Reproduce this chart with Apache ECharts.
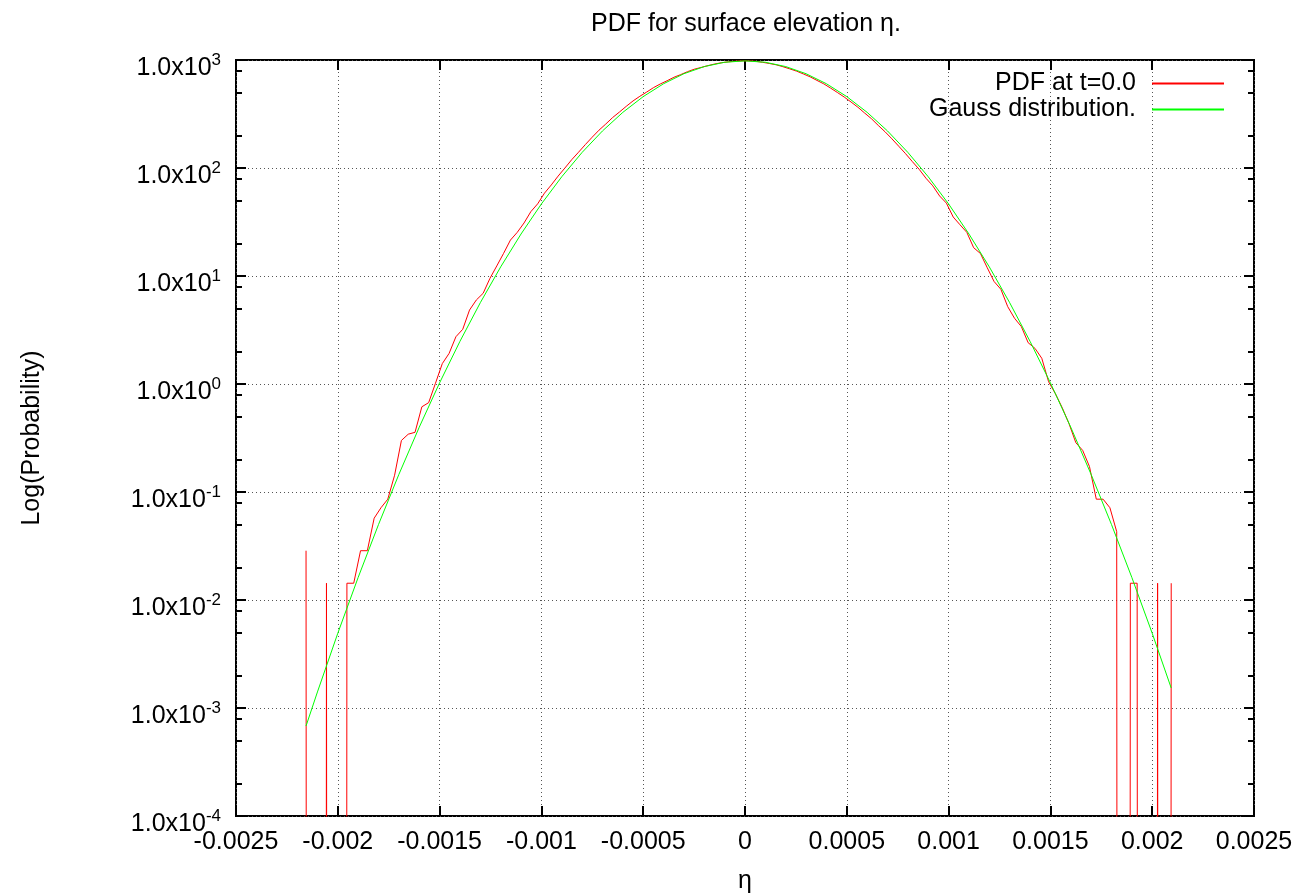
<!DOCTYPE html>
<html>
<head>
<meta charset="utf-8">
<script src="https://cdn.jsdelivr.net/npm/echarts@6/dist/echarts.min.js"></script>
<style>html,body{margin:0;padding:0;background:#fff}#chart{width:1301px;height:893px}</style>
</head>
<body>
<div id="chart"></div>
<script>
// ---------------- data ----------------
const titleText = 'PDF for surface elevation \u03b7.';
const xAxisName = '\u03b7';
const yAxisName = 'Log(Probability)';
const seriesNames = ['PDF at t=0.0', 'Gauss distribution.'];

const xTickLabels = ['-0.0025', '-0.002', '-0.0015', '-0.001', '-0.0005', '0', '0.0005', '0.001', '0.0015', '0.002', '0.0025'];
const yTickExponents = [-4, -3, -2, -1, 0, 1, 2, 3];
const yMinorMantissas = [2, 5, 8];

// histogram bin centres (eta) of the measured PDF
const pdfEta = [
  -21.560e-4, -21.225e-4, -20.891e-4, -20.556e-4, -20.222e-4, -19.887e-4, -19.552e-4, -19.218e-4, -18.883e-4, -18.549e-4,
  -18.214e-4, -17.879e-4, -17.545e-4, -17.210e-4, -16.876e-4, -16.541e-4, -16.206e-4, -15.872e-4, -15.537e-4, -15.203e-4,
  -14.868e-4, -14.533e-4, -14.199e-4, -13.864e-4, -13.530e-4, -13.195e-4, -12.860e-4, -12.526e-4, -12.191e-4, -11.857e-4,
  -11.522e-4, -11.187e-4, -10.853e-4, -10.518e-4, -10.184e-4, -9.849e-4, -9.514e-4, -9.180e-4, -8.845e-4, -8.511e-4,
  -8.176e-4, -7.841e-4, -7.507e-4, -7.172e-4, -6.838e-4, -6.503e-4, -6.168e-4, -5.834e-4, -5.499e-4, -5.165e-4,
  -4.830e-4, -4.495e-4, -4.161e-4, -3.826e-4, -3.492e-4, -3.157e-4, -2.822e-4, -2.488e-4, -2.153e-4, -1.819e-4,
  -1.484e-4, -1.149e-4, -0.815e-4, -0.480e-4, -0.146e-4, 0.189e-4, 0.524e-4, 0.858e-4, 1.193e-4, 1.527e-4,
  1.862e-4, 2.197e-4, 2.531e-4, 2.866e-4, 3.200e-4, 3.535e-4, 3.870e-4, 4.204e-4, 4.539e-4, 4.873e-4,
  5.208e-4, 5.543e-4, 5.877e-4, 6.212e-4, 6.546e-4, 6.881e-4, 7.216e-4, 7.550e-4, 7.885e-4, 8.219e-4,
  8.554e-4, 8.889e-4, 9.223e-4, 9.558e-4, 9.892e-4, 10.227e-4, 10.562e-4, 10.896e-4, 11.231e-4, 11.565e-4,
  11.900e-4, 12.235e-4, 12.569e-4, 12.904e-4, 13.238e-4, 13.573e-4, 13.908e-4, 14.242e-4, 14.577e-4, 14.911e-4,
  15.246e-4, 15.581e-4, 15.915e-4, 16.250e-4, 16.584e-4, 16.919e-4, 17.254e-4, 17.588e-4, 17.923e-4, 18.257e-4,
  18.592e-4, 18.926e-4, 19.261e-4, 19.596e-4, 19.930e-4, 20.265e-4, 20.599e-4, 20.934e-4
];
// measured PDF per bin (0 = empty bin)
const pdfValues = [
  0.0286, 0, 0, 0.0143, 0, 0, 0.0143, 0.0143, 0.0286, 0.0286,
  0.0572, 0.0715, 0.0858, 0.143, 0.300, 0.343, 0.357, 0.615, 0.672, 1.015,
  1.544, 1.92, 2.74, 3.21, 4.84, 6.00, 6.92, 9.52, 12.4, 16.2,
  21.5, 25.35, 30.97, 39.45, 46.56, 58.48, 69.66, 84.14, 100.0, 119.4,
  140.0, 164.8, 192.8, 223.9, 255.3, 293.1, 329.6, 372.4, 417.8, 461.3,
  504.7, 554.6, 599.8, 642.7, 691.8, 732.8, 779.8, 822.2, 853.1, 887.2,
  918.3, 944.1, 961.6, 975.0, 981.7, 981.7, 972.7, 952.8, 929.0, 903.6,
  867.0, 827.9, 788.9, 743.0, 698.2, 647.1, 601.2, 549.5, 500.0, 454.0,
  408.3, 365.6, 322.8, 285.8, 247.7, 216.3, 186.2, 159.2, 135.8, 114.6,
  97.27, 80.35, 68.39, 55.08, 47.32, 35.16, 29.79, 25.35, 18.28, 16.14,
  11.91, 8.89, 7.53, 5.20, 4.06, 3.40, 2.41, 2.14, 1.73, 1.05,
  0.813, 0.603, 0.429, 0.286, 0.243, 0.172, 0.0858, 0.0858, 0.0715, 0.0429,
  0, 0.0143, 0.0143, 0, 0, 0.0143, 0, 0.0143
];

// Gauss distribution curve
const gaussEta = [
  -21.56e-4, -21e-4, -20e-4, -19e-4, -18e-4, -17e-4, -16e-4, -15e-4, -14e-4, -13e-4, -12e-4,
  -11e-4, -10e-4, -9e-4, -8e-4, -7e-4, -6e-4, -5e-4, -4e-4, -3e-4, -2e-4, -1e-4, 0,
  1e-4, 2e-4, 3e-4, 4e-4, 5e-4, 6e-4, 7e-4, 8e-4, 9e-4, 10e-4,
  11e-4, 12e-4, 13e-4, 14e-4, 15e-4, 16e-4, 17e-4, 18e-4, 19e-4, 20e-4, 20.934e-4
];
const gaussValues = [
  6.81e-4, 1.408e-3, 4.922e-3, 0.01618, 0.05002, 0.1455, 0.3982, 1.025, 2.484, 5.661, 12.14,
  24.48, 46.47, 82.96, 139.4, 220.3, 327.4, 458.1, 602.7, 746.3, 869.0, 952.6, 982.0,
  952.6, 869.0, 746.3, 602.7, 458.1, 327.4, 220.3, 139.4, 82.96, 46.47,
  24.48, 12.14, 5.661, 2.484, 1.025, 0.3982, 0.1455, 0.05002, 0.01618, 4.922e-3, 1.531e-3
];

// ---------------- chart ----------------
const FONT = '"Liberation Sans", Arial, Helvetica, sans-serif';
const FS = 25;
const X_MIN = -0.0025, X_MAX = 0.0025, X_STEP = 0.0005;
// An empty bin has log(0) = -inf; like the original plot it drops straight out of the frame.
const EMPTY_BIN = 1e-100;

const pdfData = pdfEta.map((x, i) => [x, pdfValues[i] > 0 ? pdfValues[i] : EMPTY_BIN]);
const gaussData = gaussEta.map((x, i) => [x, gaussValues[i]]);

const minorTickLogs = [];
for (let k = 0; k < yTickExponents.length - 1; k++) {
  for (const m of yMinorMantissas) minorTickLogs.push(yTickExponents[k] + Math.log10(m));
}

const chart = echarts.init(document.getElementById('chart'), null, {renderer: 'canvas', width: 1301, height: 893});

const tickStyle = {color: '#000', width: 2};
const gridLine = {show: true, lineStyle: {color: '#555', width: 1, type: [1, 3]}};
const noLine = {show: false, onZero: false};

chart.setOption({
  animation: false,
  backgroundColor: '#fff',
  textStyle: {fontFamily: FONT, color: '#000'},
  title: {
    text: titleText,
    left: 746, top: 12, textAlign: 'center', padding: 0,
    textStyle: {fontSize: FS, fontWeight: 'normal', color: '#000', fontFamily: FONT}
  },
  legend: {
    data: seriesNames,
    orient: 'vertical', align: 'right',
    right: 77, top: 71, padding: 0,
    icon: 'rect', itemWidth: 72, itemHeight: 2, itemGap: 1,
    textStyle: {fontSize: FS, fontFamily: FONT, color: '#000', lineHeight: 25, padding: [0, 11, 0, 0]}
  },
  grid: {
    left: 236, right: 47, top: 60, bottom: 77, show: true, borderColor: '#000', borderWidth: 2,
    backgroundColor: 'transparent', containLabel: false, outerBoundsMode: 'none'
  },
  xAxis: [
    {
      type: 'value', min: X_MIN, max: X_MAX, interval: X_STEP, position: 'bottom',
      name: xAxisName, nameLocation: 'middle', nameGap: 53,
      nameTextStyle: {fontSize: FS, fontFamily: FONT, color: '#000'},
      axisLine: noLine,
      axisTick: {show: true, inside: true, length: 10, lineStyle: tickStyle},
      axisLabel: {
        margin: 14, fontSize: FS, fontFamily: FONT, color: '#000',
        formatter: v => { const k = Math.round((v - X_MIN) / X_STEP); return xTickLabels[k] !== undefined ? xTickLabels[k] : ''; }
      },
      splitLine: gridLine
    },
    {
      type: 'value', min: X_MIN, max: X_MAX, interval: X_STEP, position: 'top',
      axisLine: noLine,
      axisTick: {show: true, inside: true, length: 10, lineStyle: tickStyle},
      axisLabel: {show: false}, splitLine: {show: false}
    }
  ],
  yAxis: [
    {
      type: 'log', logBase: 10, min: 1e-4, max: 1e3, splitNumber: 7, position: 'left',
      name: yAxisName, nameLocation: 'middle', nameGap: 191, nameRotate: 90,
      nameTextStyle: {fontSize: FS, fontFamily: FONT, color: '#000'},
      axisLine: noLine,
      axisTick: {show: true, inside: true, length: 10, lineStyle: tickStyle},
      axisLabel: {
        margin: 15,
        formatter: v => '{m|1.0x10}{e|' + Math.round(Math.log10(v)) + '}',
        rich: {
          m: {fontSize: FS, fontFamily: FONT, color: '#000', lineHeight: 25, verticalAlign: 'bottom'},
          e: {fontSize: 17, fontFamily: FONT, color: '#000', lineHeight: 41, verticalAlign: 'middle'}
        }
      },
      splitLine: gridLine
    },
    {
      type: 'log', logBase: 10, min: 1e-4, max: 1e3, splitNumber: 7, position: 'right',
      axisLine: noLine,
      axisTick: {show: true, inside: true, length: 10, lineStyle: tickStyle},
      axisLabel: {show: false}, splitLine: {show: false}
    },
    {
      type: 'value', min: -4, max: 3, position: 'left',
      axisLine: noLine,
      axisTick: {show: true, inside: true, length: 6, lineStyle: tickStyle, customValues: minorTickLogs},
      axisLabel: {show: false}, splitLine: {show: false}
    },
    {
      type: 'value', min: -4, max: 3, position: 'right',
      axisLine: noLine,
      axisTick: {show: true, inside: true, length: 6, lineStyle: tickStyle, customValues: minorTickLogs},
      axisLabel: {show: false}, splitLine: {show: false}
    }
  ],
  series: [
    {
      name: seriesNames[0], type: 'line', data: pdfData, xAxisIndex: 0, yAxisIndex: 0,
      showSymbol: false, symbol: 'none', clip: true, sampling: null,
      color: '#ff0000', lineStyle: {color: '#ff0000', width: 1}, emphasis: {disabled: true}
    },
    {
      name: seriesNames[1], type: 'line', data: gaussData, xAxisIndex: 0, yAxisIndex: 0,
      showSymbol: false, symbol: 'none', clip: true,
      color: '#00ff00', lineStyle: {color: '#00ff00', width: 1}, emphasis: {disabled: true}
    }
  ]
});
</script>
</body>
</html>
